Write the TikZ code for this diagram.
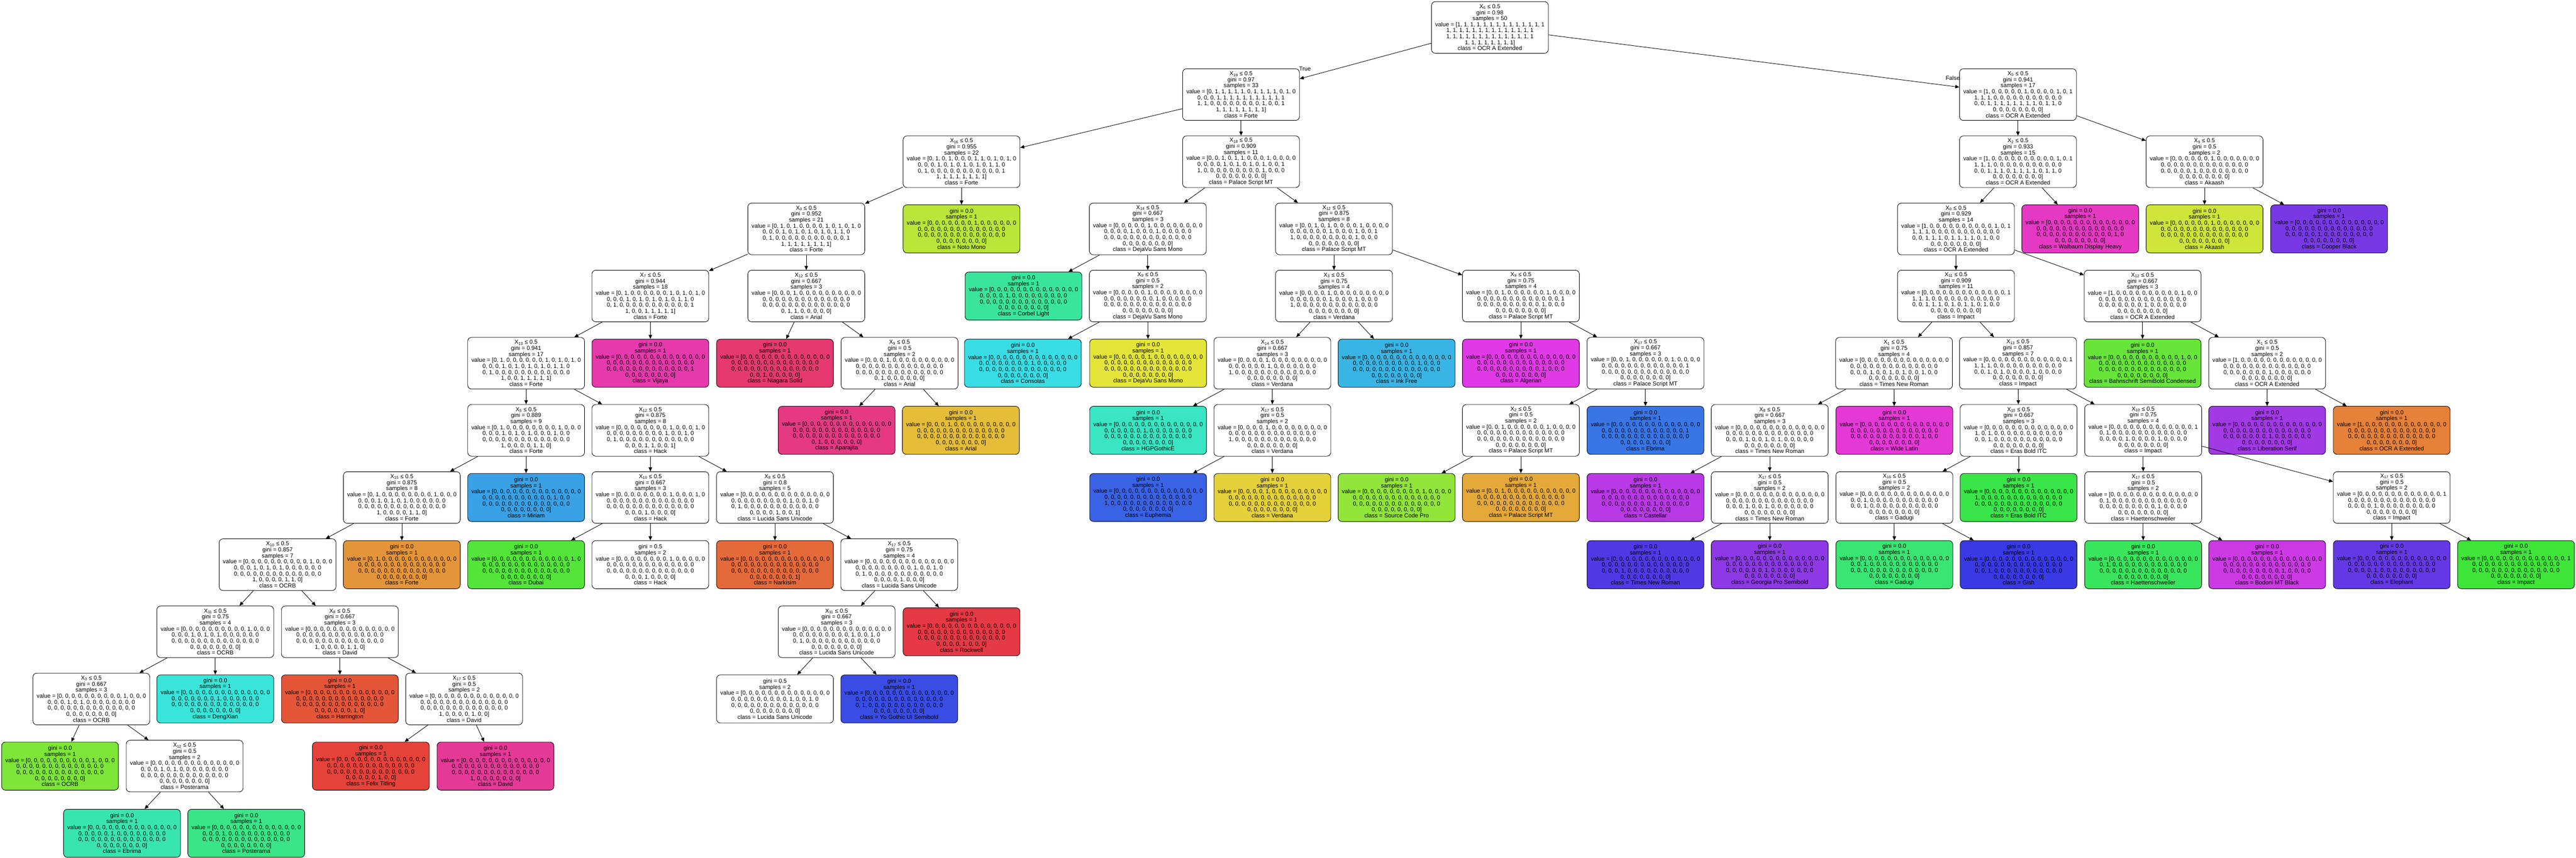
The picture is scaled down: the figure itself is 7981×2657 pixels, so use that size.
\documentclass[tikz,border=0pt]{standalone}
\usepackage{fontspec}
\setmainfont{Liberation Sans}
\usetikzlibrary{arrows.meta}

% one colour per class, as the tree export colours them
\foreach \cidx in {0,...,49}{%
  \pgfmathtruncatemacro\hue{mod(int(25+7.2*\cidx),360)}%
  \definecolor{tmphue}{Hsb}{\hue,0.75,0.9}%
  \xglobal\colorlet{cls\cidx}[rgb]{tmphue}}

\makeatletter
\protected\def\vbr{\\}
\def\allk{0,1,2,3,4,5,6,7,8,9,10,11,12,13,14,15,16,17,18,19,20,21,22,23,24,25,26,27,28,29,30,31,32,33,34,35,36,37,38,39,40,41,42,43,44,45,46,47,48,49}
\newcommand\val[1]{%
  \edef\vset{,#1,}%
  \gdef\valstr{value = [}%
  \foreach \cidx in {0,...,49}{%
    \edef\vtest{\noexpand\in@{,\cidx,}{\vset}}\vtest
    \ifin@\def\vbit{1}\else\def\vbit{0}\fi
    \ifnum\cidx=49 \xdef\valstr{\valstr\vbit]}%
    \else\ifnum\cidx=13 \xdef\valstr{\valstr\vbit\vbr}%
    \else\ifnum\cidx=27 \xdef\valstr{\valstr\vbit\vbr}%
    \else\ifnum\cidx=41 \xdef\valstr{\valstr\vbit\vbr}%
    \else\xdef\valstr{\valstr\vbit, }\fi\fi\fi\fi}%
  \valstr}
\makeatother
\newcommand\splittext[5]{X\textsubscript{#1} ≤ 0.5\\gini = #2\\samples = #3\\\val{#4}\\class = #5}
\newcommand\leaftext[4]{gini = #1\\samples = #2\\\val{#3}\\class = #4}

\begin{document}
\begin{tikzpicture}[x=0.5pt,y=-0.5pt,>={Triangle[length=6.3pt,width=5.4pt]},
  box/.style={draw,rounded corners=6pt,line width=0.7pt,align=center,minimum width=181pt,inner sep=1pt,font=\fontsize{9}{9.3}\selectfont},
  split node/.style={box,fill=white,minimum height=80pt},
  leaf node/.style={box,fill=cls#1,minimum height=74.5pt},
  tie node/.style={box,fill=white,minimum height=74.5pt},
  edge lbl/.style={inner sep=0pt,font=\fontsize{9}{9.3}\selectfont}]

  \useasboundingbox (0,0) rectangle (7981,2657);

  \node[split node] (0) at (4616,85) {\splittext{6}{0.98}{50}{\allk}{OCR A Extended}};
  \node[split node] (1) at (3845,293) {\splittext{19}{0.97}{33}{1,2,3,4,5,7,8,9,10,12,17,18,19,20,21,22,23,24,25,26,27,28,29,38,41,42,43,44,45,46,47,48,49}{Forte}};
  \node[split node] (2) at (2979,501) {\splittext{16}{0.955}{22}{1,3,7,8,10,12,17,19,21,23,25,26,29,41,42,43,44,45,46,47,48,49}{Forte}};
  \node[split node] (3) at (2498,709) {\splittext{0}{0.952}{21}{1,3,8,10,12,17,19,21,23,25,26,29,41,42,43,44,45,46,47,48,49}{Forte}};
  \node[split node] (4) at (2015,917) {\splittext{7}{0.944}{18}{1,8,10,12,17,19,21,23,25,26,29,41,42,45,46,47,48,49}{Forte}};
  \node[split node] (5) at (1630,1125) {\splittext{13}{0.941}{17}{1,8,10,12,17,19,21,23,25,26,29,42,45,46,47,48,49}{Forte}};
  \node[split node] (6) at (1630,1333) {\splittext{5}{0.889}{9}{1,10,17,19,21,25,42,47,48}{Forte}};
  \node[split node] (7) at (1245,1541) {\splittext{15}{0.875}{8}{1,10,17,19,21,42,47,48}{Forte}};
  \node[split node] (8) at (860,1749) {\splittext{10}{0.857}{7}{10,17,19,21,42,47,48}{OCRB}};
  \node[split node] (9) at (667,1957) {\splittext{11}{0.75}{4}{10,17,19,21}{OCRB}};
  \node[split node] (10) at (283,2165) {\splittext{3}{0.667}{3}{10,17,19}{OCRB}};
  \node[leaf node=10] (11) at (186,2373) {\leaftext{0.0}{1}{10}{OCRB}};
  \node[split node] (12) at (572,2373) {\splittext{12}{0.5}{2}{17,19}{Posterama}};
  \node[leaf node=19] (13) at (378,2581) {\leaftext{0.0}{1}{19}{Ebrima}};
  \node[leaf node=17] (14) at (763,2581) {\leaftext{0.0}{1}{17}{Posterama}};
  \node[leaf node=21] (15) at (667,2165) {\leaftext{0.0}{1}{21}{DengXian}};
  \node[split node] (16) at (1053,1957) {\splittext{8}{0.667}{3}{42,47,48}{David}};
  \node[leaf node=48] (17) at (1053,2165) {\leaftext{0.0}{1}{48}{Harrington}};
  \node[split node] (18) at (1438,2165) {\splittext{17}{0.5}{2}{42,47}{David}};
  \node[leaf node=47] (19) at (1149,2373) {\leaftext{0.0}{1}{47}{Felix Titling}};
  \node[leaf node=42] (20) at (1535,2373) {\leaftext{0.0}{1}{42}{David}};
  \node[leaf node=1] (21) at (1245,1749) {\leaftext{0.0}{1}{1}{Forte}};
  \node[leaf node=25] (22) at (1630,1541) {\leaftext{0.0}{1}{25}{Miriam}};
  \node[split node] (23) at (2015,1333) {\splittext{12}{0.875}{8}{8,12,23,26,29,45,46,49}{Hack}};
  \node[split node] (24) at (2015,1541) {\splittext{10}{0.667}{3}{8,12,45}{Hack}};
  \node[leaf node=12] (25) at (1630,1749) {\leaftext{0.0}{1}{12}{Dubai}};
  \node[tie node] (26) at (2015,1749) {\leaftext{0.5}{2}{8,45}{Hack}};
  \node[split node] (27) at (2401,1541) {\splittext{8}{0.8}{5}{23,26,29,46,49}{Lucida Sans Unicode}};
  \node[leaf node=49] (28) at (2401,1749) {\leaftext{0.0}{1}{49}{Narkisim}};
  \node[split node] (29) at (2786,1749) {\splittext{17}{0.75}{4}{23,26,29,46}{Lucida Sans Unicode}};
  \node[split node] (30) at (2592,1957) {\splittext{11}{0.667}{3}{23,26,29}{Lucida Sans Unicode}};
  \node[tie node] (31) at (2401,2165) {\leaftext{0.5}{2}{23,26}{Lucida Sans Unicode}};
  \node[leaf node=29] (32) at (2786,2165) {\leaftext{0.0}{1}{29}{Yu Gothic UI Semibold}};
  \node[leaf node=46] (33) at (2979,1957) {\leaftext{0.0}{1}{46}{Rockwell}};
  \node[leaf node=41] (34) at (2015,1125) {\leaftext{0.0}{1}{41}{Vijaya}};
  \node[split node] (35) at (2498,917) {\splittext{12}{0.667}{3}{3,43,44}{Arial}};
  \node[leaf node=44] (36) at (2401,1125) {\leaftext{0.0}{1}{44}{Niagara Solid}};
  \node[split node] (37) at (2787,1125) {\splittext{9}{0.5}{2}{3,43}{Arial}};
  \node[leaf node=43] (38) at (2592,1333) {\leaftext{0.0}{1}{43}{Aparajita}};
  \node[leaf node=3] (39) at (2977,1333) {\leaftext{0.0}{1}{3}{Arial}};
  \node[leaf node=7] (40) at (2979,709) {\leaftext{0.0}{1}{7}{Noto Mono}};
  \node[split node] (41) at (3845,501) {\splittext{18}{0.909}{11}{2,4,5,9,18,20,22,24,27,28,38}{Palace Script MT}};
  \node[split node] (42) at (3556,709) {\splittext{14}{0.667}{3}{5,18,22}{DejaVu Sans Mono}};
  \node[leaf node=18] (43) at (3171,917) {\leaftext{0.0}{1}{18}{Corbel Light}};
  \node[split node] (44) at (3556,917) {\splittext{9}{0.5}{2}{5,22}{DejaVu Sans Mono}};
  \node[leaf node=22] (45) at (3169,1125) {\leaftext{0.0}{1}{22}{Consolas}};
  \node[leaf node=5] (46) at (3557,1125) {\leaftext{0.0}{1}{5}{DejaVu Sans Mono}};
  \node[split node] (47) at (4133,709) {\splittext{12}{0.875}{8}{2,4,9,20,24,27,28,38}{Palace Script MT}};
  \node[split node] (48) at (4133,917) {\splittext{3}{0.75}{4}{4,20,24,28}{Verdana}};
  \node[split node] (49) at (3942,1125) {\splittext{14}{0.667}{3}{4,20,28}{Verdana}};
  \node[leaf node=20] (50) at (3557,1333) {\leaftext{0.0}{1}{20}{HGPGothicE}};
  \node[split node] (51) at (3942,1333) {\splittext{17}{0.5}{2}{4,28}{Verdana}};
  \node[leaf node=28] (52) at (3557,1541) {\leaftext{0.0}{1}{28}{Euphemia}};
  \node[leaf node=4] (53) at (3942,1541) {\leaftext{0.0}{1}{4}{Verdana}};
  \node[leaf node=24] (54) at (4327,1125) {\leaftext{0.0}{1}{24}{Ink Free}};
  \node[split node] (55) at (4712,917) {\splittext{9}{0.75}{4}{2,9,27,38}{Palace Script MT}};
  \node[leaf node=38] (56) at (4712,1125) {\leaftext{0.0}{1}{38}{Algerian}};
  \node[split node] (57) at (5098,1125) {\splittext{17}{0.667}{3}{2,9,27}{Palace Script MT}};
  \node[split node] (58) at (4712,1333) {\splittext{2}{0.5}{2}{2,9}{Palace Script MT}};
  \node[leaf node=9] (59) at (4327,1541) {\leaftext{0.0}{1}{9}{Source Code Pro}};
  \node[leaf node=2] (60) at (4712,1541) {\leaftext{0.0}{1}{2}{Palace Script MT}};
  \node[leaf node=27] (61) at (5098,1333) {\leaftext{0.0}{1}{27}{Ebrima}};
  \node[split node] (62) at (6252,293) {\splittext{5}{0.941}{17}{0,6,11,13,14,15,16,30,31,32,33,34,35,36,37,39,40}{OCR A Extended}};
  \node[split node] (63) at (6252,501) {\splittext{2}{0.933}{15}{0,11,13,14,15,16,30,31,32,34,35,36,37,39,40}{OCR A Extended}};
  \node[split node] (64) at (6060,709) {\splittext{0}{0.929}{14}{0,11,13,14,15,16,30,31,32,34,35,36,37,39}{OCR A Extended}};
  \node[split node] (65) at (6060,917) {\splittext{11}{0.909}{11}{13,14,15,16,30,31,32,34,36,37,39}{Impact}};
  \node[split node] (66) at (5868,1125) {\splittext{1}{0.75}{4}{31,34,36,39}{Times New Roman}};
  \node[split node] (67) at (5483,1333) {\splittext{8}{0.667}{3}{31,34,36}{Times New Roman}};
  \node[leaf node=36] (68) at (5098,1541) {\leaftext{0.0}{1}{36}{Castellar}};
  \node[split node] (69) at (5483,1541) {\splittext{17}{0.5}{2}{31,34}{Times New Roman}};
  \node[leaf node=31] (70) at (5098,1749) {\leaftext{0.0}{1}{31}{Times New Roman}};
  \node[leaf node=34] (71) at (5483,1749) {\leaftext{0.0}{1}{34}{Georgia Pro Semibold}};
  \node[leaf node=39] (72) at (5869,1333) {\leaftext{0.0}{1}{39}{Wide Latin}};
  \node[split node] (73) at (6252,1125) {\splittext{13}{0.857}{7}{13,14,15,16,30,32,37}{Impact}};
  \node[split node] (74) at (6254,1333) {\splittext{10}{0.667}{3}{14,16,30}{Eras Bold ITC}};
  \node[split node] (75) at (5869,1541) {\splittext{16}{0.5}{2}{16,30}{Gadugi}};
  \node[leaf node=16] (76) at (5869,1749) {\leaftext{0.0}{1}{16}{Gadugi}};
  \node[leaf node=30] (77) at (6254,1749) {\leaftext{0.0}{1}{30}{Gish}};
  \node[leaf node=14] (78) at (6254,1541) {\leaftext{0.0}{1}{14}{Eras Bold ITC}};
  \node[split node] (79) at (6640,1333) {\splittext{10}{0.75}{4}{13,15,32,37}{Impact}};
  \node[split node] (80) at (6640,1541) {\splittext{17}{0.5}{2}{15,37}{Haettenschweiler}};
  \node[leaf node=15] (81) at (6640,1749) {\leaftext{0.0}{1}{15}{Haettenschweiler}};
  \node[leaf node=37] (82) at (7024,1749) {\leaftext{0.0}{1}{37}{Bodoni MT Black}};
  \node[split node] (83) at (7410,1541) {\splittext{17}{0.5}{2}{13,32}{Impact}};
  \node[leaf node=32] (84) at (7410,1749) {\leaftext{0.0}{1}{32}{Elephant}};
  \node[leaf node=13] (85) at (7795,1749) {\leaftext{0.0}{1}{13}{Impact}};
  \node[split node] (86) at (6638,917) {\splittext{12}{0.667}{3}{0,11,35}{OCR A Extended}};
  \node[leaf node=11] (87) at (6638,1125) {\leaftext{0.0}{1}{11}{Bahnschrift SemiBold Condensed}};
  \node[split node] (88) at (7024,1125) {\splittext{1}{0.5}{2}{0,35}{OCR A Extended}};
  \node[leaf node=35] (89) at (7024,1333) {\leaftext{0.0}{1}{35}{Liberation Serif}};
  \node[leaf node=0] (90) at (7410,1333) {\leaftext{0.0}{1}{0}{OCR A Extended}};
  \node[leaf node=40] (91) at (6445,709) {\leaftext{0.0}{1}{40}{Walbaum Display Heavy}};
  \node[split node] (92) at (6830,501) {\splittext{9}{0.5}{2}{6,33}{Akaash}};
  \node[leaf node=6] (93) at (6830,709) {\leaftext{0.0}{1}{6}{Akaash}};
  \node[leaf node=33] (94) at (7216,709) {\leaftext{0.0}{1}{33}{Cooper Black}};

  \node[edge lbl] (true) at (4043,213) {True};
  \node[edge lbl] (false) at (6050,241) {False};

  \path[->,line width=0.7pt]
    (0) edge (1) (0) edge (62)
    (1) edge (2) (1) edge (41)
    (2) edge (3) (2) edge (40)
    (3) edge (4) (3) edge (35)
    (4) edge (5) (4) edge (34)
    (5) edge (6) (5) edge (23)
    (6) edge (7) (6) edge (22)
    (7) edge (8) (7) edge (21)
    (8) edge (9) (8) edge (16)
    (9) edge (10) (9) edge (15)
    (10) edge (11) (10) edge (12)
    (12) edge (13) (12) edge (14)
    (16) edge (17) (16) edge (18)
    (18) edge (19) (18) edge (20)
    (23) edge (24) (23) edge (27)
    (24) edge (25) (24) edge (26)
    (27) edge (28) (27) edge (29)
    (29) edge (30) (29) edge (33)
    (30) edge (31) (30) edge (32)
    (35) edge (36) (35) edge (37)
    (37) edge (38) (37) edge (39)
    (41) edge (42) (41) edge (47)
    (42) edge (43) (42) edge (44)
    (44) edge (45) (44) edge (46)
    (47) edge (48) (47) edge (55)
    (48) edge (49) (48) edge (54)
    (49) edge (50) (49) edge (51)
    (51) edge (52) (51) edge (53)
    (55) edge (56) (55) edge (57)
    (57) edge (58) (57) edge (61)
    (58) edge (59) (58) edge (60)
    (62) edge (63) (62) edge (92)
    (63) edge (64) (63) edge (91)
    (64) edge (65) (64) edge (86)
    (65) edge (66) (65) edge (73)
    (66) edge (67) (66) edge (72)
    (67) edge (68) (67) edge (69)
    (69) edge (70) (69) edge (71)
    (73) edge (74) (73) edge (79)
    (74) edge (75) (74) edge (78)
    (75) edge (76) (75) edge (77)
    (79) edge (80) (79) edge (83)
    (80) edge (81) (80) edge (82)
    (83) edge (84) (83) edge (85)
    (86) edge (87) (86) edge (88)
    (88) edge (89) (88) edge (90)
    (92) edge (93) (92) edge (94);
\end{tikzpicture}
\end{document}
